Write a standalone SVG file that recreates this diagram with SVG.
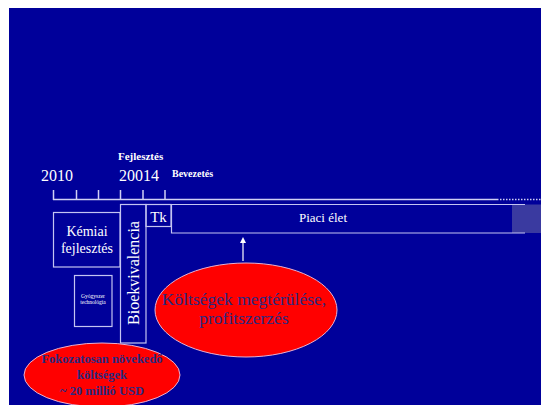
<svg xmlns="http://www.w3.org/2000/svg" width="541" height="405" viewBox="0 0 541 405">
<style>
.box{fill:none;stroke:#C4C4F2;stroke-width:1.2}
.ax{stroke:#D0D0F4;stroke-width:1.5;fill:none}
.w{fill:#FFFFFF;font-family:"Liberation Serif","Times New Roman",serif}
.b{font-weight:bold}
.red{fill:#FF0000;stroke:#E8B0D0;stroke-width:1}
.dk{fill:#2A2A80;font-family:"Liberation Serif","Times New Roman",serif;text-anchor:middle}
</style>
<defs>
<marker id="ah" markerWidth="6" markerHeight="6" refX="3" refY="3" orient="auto" markerUnits="userSpaceOnUse">
<path d="M0,0 L6,3 L0,6 z" fill="#FFFFFF"/>
</marker>
</defs>
<rect x="0" y="0" width="541" height="405" fill="#FFFFFF"/>
<rect x="9" y="8" width="532" height="397" fill="#00009A"/>

<g id="timeline">
<line class="ax" x1="53" y1="199.5" x2="497" y2="199.5"/>
<line class="ax" x1="497" y1="199.5" x2="541" y2="199.5" stroke-dasharray="1.5,1.5"/>
<line class="ax" x1="53.5" y1="190" x2="53.5" y2="200"/>
<line class="ax" x1="76.5" y1="190" x2="76.5" y2="200"/>
<line class="ax" x1="98.5" y1="190" x2="98.5" y2="200"/>
<line class="ax" x1="120.5" y1="190" x2="120.5" y2="200"/>
<line class="ax" x1="143" y1="190" x2="143" y2="200"/>
<line class="ax" x1="165" y1="190" x2="165" y2="200"/>
<text class="w" x="41" y="181" font-size="16">2010</text>
<text class="w" x="119" y="181" font-size="16">20014</text>
<text class="w b" x="118" y="160" font-size="11">Fejlesztés</text>
<text class="w b" x="172" y="177" font-size="10">Bevezetés</text>
</g>

<g id="kemiai">
<rect class="box" x="53.5" y="212.5" width="66.5" height="54.5"/>
<text class="w" x="87" y="236" font-size="14" text-anchor="middle">Kémiai</text>
<text class="w" x="87" y="253" font-size="14" text-anchor="middle">fejlesztés</text>
</g>

<g id="gyogyszer">
<rect class="box" x="74.5" y="275.5" width="37.5" height="51"/>
<text class="w" x="93" y="298" font-size="5.5" text-anchor="middle">Gyógyszer</text>
<text class="w" x="93" y="304" font-size="5.5" text-anchor="middle">technológia</text>
</g>

<g id="bioekvivalencia">
<rect class="box" x="120.5" y="204.5" width="25.5" height="138.5"/>
<text class="w" transform="translate(139,273) rotate(-90)" font-size="16" text-anchor="middle">Bioekvivalencia</text>
</g>

<g id="tk">
<rect class="box" x="146" y="204.5" width="25" height="22"/>
<text class="w" x="158.5" y="222" font-size="15" text-anchor="middle">Tk</text>
</g>

<g id="piaci">
<rect x="512" y="204.5" width="29" height="28.5" fill="#3A3AA0"/>
<path class="box" d="M146,204.5 H525 M171.5,204.5 V233 H525"/>
<text class="w" x="323" y="222" font-size="13" text-anchor="middle">Piaci élet</text>
</g>

<g id="connectors">
<line x1="243" y1="261" x2="243" y2="240" stroke="#FFFFFF" stroke-width="1.2" marker-end="url(#ah)"/>
</g>

<g id="koltsegek">
<ellipse class="red" cx="246" cy="310" rx="91" ry="47"/>
<text class="dk" x="244" y="305" font-size="17.5">Költségek megtérülése,</text>
<text class="dk" x="244" y="324" font-size="17.5">profitszerzés</text>
</g>

<g id="fokozatosan">
<ellipse class="red" cx="102" cy="375" rx="78" ry="32"/>
<text class="dk b" x="102" y="363" font-size="12.5">Fokozatosan növekedő</text>
<text class="dk b" x="102" y="379" font-size="12.5">költségek</text>
<text class="dk b" x="102" y="395" font-size="12.5">~ 20 millió USD</text>
</g>
</svg>
